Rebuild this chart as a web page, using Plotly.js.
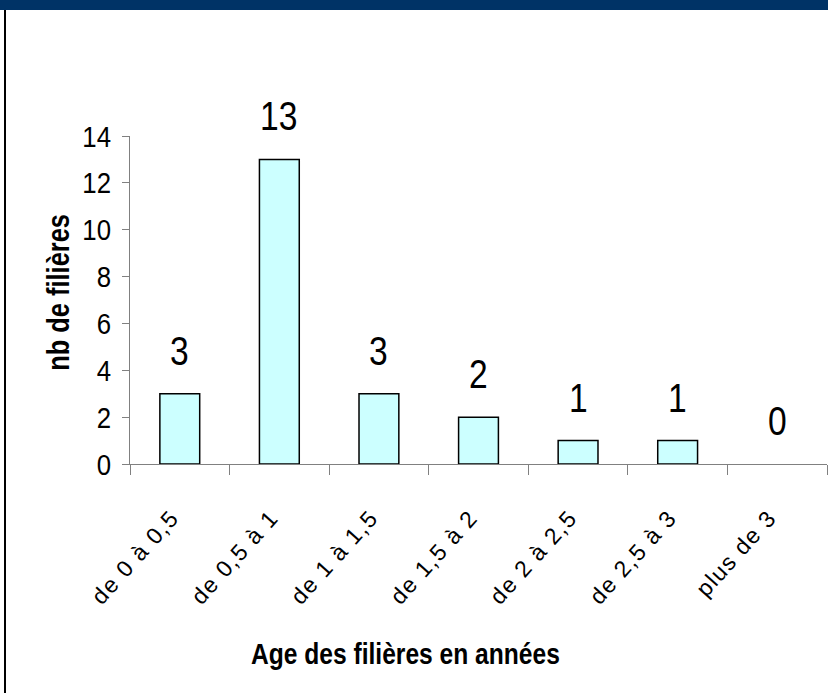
<!DOCTYPE html>
<html>
<head>
<meta charset="utf-8">
<script src="https://cdn.plot.ly/plotly-3.0.1.min.js"></script>
<style>
html,body{margin:0;padding:0;background:#fff;}
#chart{width:828px;height:693px;}
.xtick text{letter-spacing:1.5px;}
</style>
</head>
<body>
<div id="chart"></div>
<script>
// ---- data ----
const categories = ["de 0 à 0,5", "de 0,5 à 1", "de 1 à 1,5", "de 1,5 à 2", "de 2 à 2,5", "de 2,5 à 3", "plus de 3"];
const counts = [3, 13, 3, 2, 1, 1, 0];
const yTickValues = [0, 2, 4, 6, 8, 10, 12, 14];
const xTitle = "Age des filières en années";
const yTitle = "nb de filières";

// ---- layout geometry ----
const W = 828, H = 693;
const M = {l: 130, r: 1, t: 136, b: 229};
const plotW = W - M.l - M.r, plotH = H - M.t - M.b;
const px = x => (x - M.l) / plotW;          // pixel x -> paper x
const py = y => (H - M.b - y) / plotH;      // pixel y -> paper y

const sans = "Liberation Sans, Arial, sans-serif";

const trace = {
  type: "bar",
  x: categories,
  y: counts,
  width: 0.4,
  marker: {color: "#ccffff", line: {color: "#000000", width: counts.map(v => v > 0 ? 1.5 : 0)}},
  hoverinfo: "x+y"
};

const barLabels = categories.map((c, i) => ({
  x: c, y: counts[i], xref: "x", yref: "y",
  text: String(counts[i]),
  showarrow: false, yanchor: "bottom", yshift: 18,
  font: {family: sans, size: 41, color: "#000"}
}));

const layout = {
  width: W, height: H,
  margin: M,
  paper_bgcolor: "#fff", plot_bgcolor: "#fff",
  showlegend: false,
  xaxis: {
    type: "category",
    showline: true, linecolor: "#808080", linewidth: 1,
    ticks: "outside", tickson: "boundaries", ticklen: 10, tickcolor: "#808080",
    tickangle: -48,
    ticklabelstandoff: 30,
    ticklabelshift: -8,
    tickfont: {family: sans, size: 23, color: "#000"},
    showgrid: false, zeroline: false, fixedrange: true
  },
  yaxis: {
    range: [0, 14],
    tickvals: yTickValues,
    ticktext: yTickValues.map(String),
    showline: true, linecolor: "#808080", linewidth: 1,
    ticks: "outside", ticklen: 7, tickcolor: "#808080",
    ticklabelstandoff: 5,
    tickfont: {family: sans, size: 30, color: "#000"},
    showgrid: false, zeroline: false, fixedrange: true
  },
  annotations: barLabels.concat([
    {
      x: px(405), y: py(653), xref: "paper", yref: "paper",
      text: "<b>" + xTitle + "</b>", showarrow: false,
      xanchor: "center", yanchor: "middle",
      font: {family: sans, size: 30, color: "#000"}
    },
    {
      x: px(58), y: py(293), xref: "paper", yref: "paper",
      text: "<b>" + yTitle + "</b>", showarrow: false, textangle: -90,
      xanchor: "center", yanchor: "middle",
      font: {family: sans, size: 31, color: "#000"}
    }
  ]),
  shapes: [
    {type: "rect", xref: "paper", yref: "paper", x0: px(0), x1: px(W), y0: py(0), y1: py(10),
     fillcolor: "#003366", line: {width: 0}, layer: "above"},
    {type: "line", xref: "paper", yref: "paper", x0: px(5), x1: px(5), y0: py(10), y1: py(H),
     line: {color: "#000", width: 2}}
  ]
};

// horizontally condense text (Arial Narrow look) around its anchor point
function condense(selector, s) {
  document.querySelectorAll(selector).forEach(t => {
    const x = parseFloat(t.getAttribute("x")) || 0;
    const tr = t.getAttribute("transform") || "";
    t.setAttribute("transform", tr + " translate(" + x + ",0) scale(" + s + ",1) translate(" + (-x) + ",0)");
  });
}

Plotly.newPlot("chart", [trace], layout, {displayModeBar: false, staticPlot: true}).then(() => {
  condense("#chart .annotation-text", 0.82);
  condense("#chart .ytick text", 0.86);
});
</script>
</body>
</html>
